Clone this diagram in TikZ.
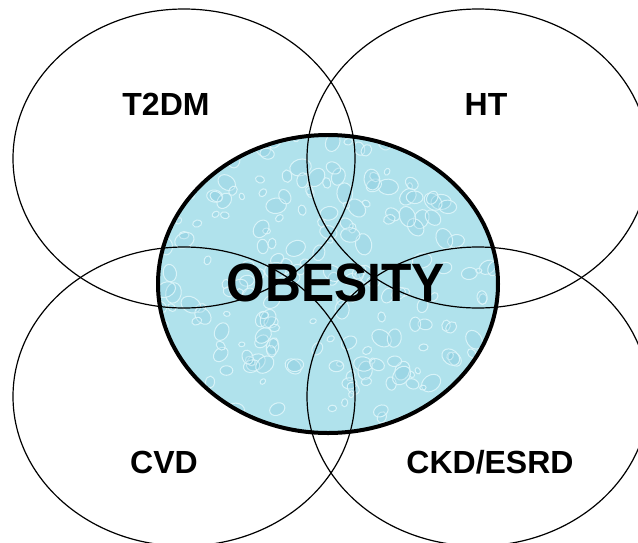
\documentclass[tikz,border=0pt]{standalone}
\usepackage{fontspec}
\setmainfont{Liberation Sans}
\usetikzlibrary{shapes.geometric}
\definecolor{water}{RGB}{176,226,236}
\definecolor{waterlight}{RGB}{222,246,250}
\definecolor{waterdark}{RGB}{120,192,216}
\tikzset{
  setring/.style={ellipse, draw=black, line width=1.2pt, minimum width=342pt, minimum height=299pt, inner sep=0pt},
  corering/.style={ellipse, draw=black, line width=4pt, minimum width=340pt, minimum height=298pt, inner sep=0pt},
  setlabel/.style={font=\fontsize{32}{32}\selectfont\bfseries, text=black, inner sep=0pt},
  corelabel/.style={font=\fontsize{54}{54}\selectfont\bfseries, text=black, inner sep=0pt}
}
\begin{document}
\begin{tikzpicture}[x=1pt,y=-1pt]
\useasboundingbox (0,0) rectangle (638,542);
\fill[white] (0,0) rectangle (638,542);
% filled core with droplet texture
\begin{scope}
  \clip (328,284) ellipse [x radius=170, y radius=149];
  \fill[water] (150,130) rectangle (510,440);
  \pgfmathsetseed{11}
  \foreach \i in {1,...,260}{
    \pgfmathsetmacro{\px}{158+340*rnd}
    \pgfmathsetmacro{\py}{135+298*rnd}
    \pgfmathsetmacro{\rr}{3+8*rnd}
    \pgfmathsetmacro{\ang}{360*rnd}
    \fill[waterdark, opacity=0.18, rotate around={\ang:(\px,\py)}] (\px,\py) ellipse [x radius=\rr, y radius=0.75*\rr];
    \draw[waterlight, opacity=0.9, line width=1pt, rotate around={\ang:(\px,\py)}] (\px,\py) ellipse [x radius=\rr, y radius=0.75*\rr];
  }
\end{scope}
% outer sets
\node[setring] (t2dm) at (184,158.5) {};
\node[setring] (ht) at (478,158.5) {};
\node[setring] (cvd) at (184,396.5) {};
\node[setring] (ckd) at (478,396.5) {};
% core outline
\node[corering] (obesity) at (328,284) {};
% labels
\node[setlabel] (lt2dm) at (166,104) {T2DM};
\node[setlabel] (lht) at (486,104) {HT};
\node[setlabel] (lcvd) at (164,462.5) {CVD};
\node[setlabel] (lckd) at (490,462.5) {CKD/ESRD};
\node[corelabel, xscale=0.92] (lobesity) at (336,282.5) {OBESITY};
\end{tikzpicture}
\end{document}
